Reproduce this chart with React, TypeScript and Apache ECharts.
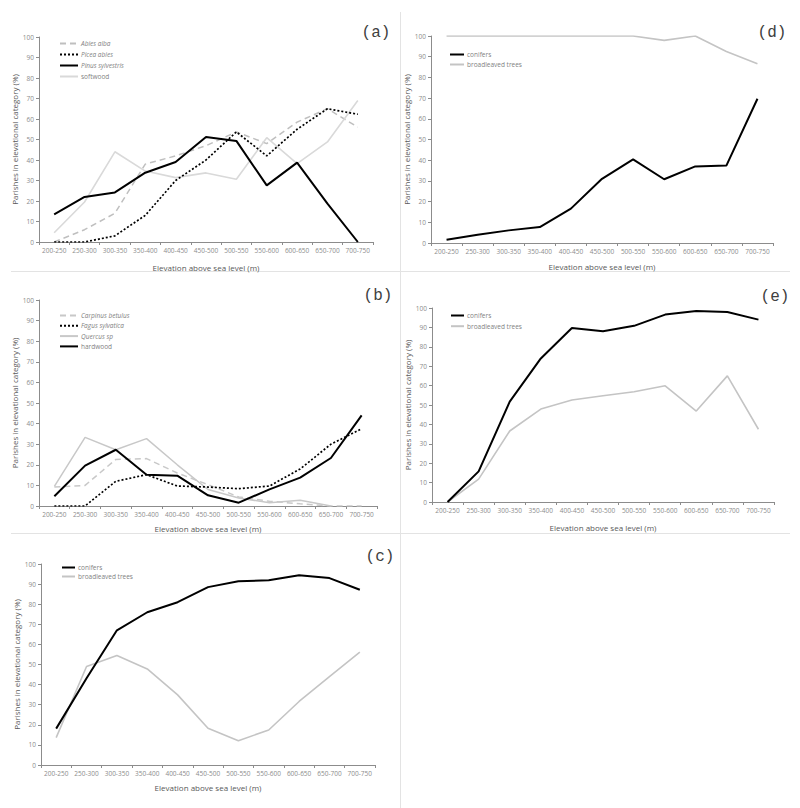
import React, { useEffect, useRef } from "react";
import * as echarts from "echarts";

const categories = ["200-250", "250-300", "300-350", "350-400", "400-450", "450-500", "500-550", "550-600", "600-650", "650-700", "700-750"];

// panel (a)
const abiesAlba = [0, 6, 14, 38, 42, 47, 53.7, 48, 58.5, 65, 56];
const piceaAbies = [0, 0, 3, 13, 30, 40, 53.7, 42, 55, 65, 62.3];
const pinusSylvestris = [13.5, 22, 24.2, 33.8, 39, 51.2, 49.3, 27.6, 38.7, 18.7, 0];
const softwood = [4.5, 19.5, 44, 34.6, 31.4, 33.7, 30.6, 50.9, 38.2, 48.8, 69];

// panel (b)
const carpinusBetulus = [9.2, 10, 22.6, 23, 16, 10.4, 4.4, 2.3, 1.1, 0, 0];
const fagusSylvatica = [0, 0, 12, 15.2, 9.7, 9.2, 8.4, 9.7, 18, 30, 37.5];
const quercusSp = [9.5, 33.3, 27.3, 32.7, 20, 8, 3.9, 1.6, 2.8, 0, null];
const hardwood = [4.7, 19.6, 27.3, 15.2, 14.7, 5.2, 1.6, 8.1, 13.8, 23.3, 44];

// panel (c)
const cConifers = [18.1, 43.2, 67, 76, 81, 88.5, 91.4, 91.9, 94.4, 93, 87.2];
const cBroadleaved = [13.6, 49, 54.5, 47.8, 34.9, 18.3, 12.1, 17.4, 31.6, 44, 56.1];

// panel (d)
const dConifers = [1.6, 4, 6.1, 7.7, 16.6, 31, 40.4, 30.8, 37, 37.4, 69.7];
const dBroadleaved = [100, 100, 100, 100, 100, 100, 100, 97.9, 100, 92.5, 86.6];

// panel (e)
const eConifers = [0, 15.8, 51.7, 74, 89.7, 88, 90.8, 96.6, 98.5, 97.9, 94];
const eBroadleaved = [0, 11.8, 36.6, 47.9, 52.6, 54.8, 56.8, 59.9, 46.9, 65, 37.5];

const yTicks = { min: 0, max: 100, interval: 10 };
const xTitle = "Elevation above sea level (m)";
const yTitle = "Parishes in elevational category (%)";
const panelLabels = ["(a)", "(b)", "(c)", "(d)", "(e)"];

const FONT = "'Open Sans', 'Noto Sans', sans-serif";
const BLACK = "#000000";

type SeriesDef = { name: string; data: (number | null)[]; color: string; width: number; type: string; italic: boolean };

const panels: {
  grid: { left: number; top: number; width: number; height: number };
  xGap: number;
  yGap: number;
  legend: { left: number; top: number; gap: number; itemWidth: number };
  label: { x: number; y: number };
  series: SeriesDef[];
}[] = [
  {
    grid: { left: 39, top: 37, width: 334, height: 205 },
    xGap: 21,
    yGap: 20,
    legend: { left: 59, top: 40, gap: 4, itemWidth: 18 },
    label: { x: 376, y: 33 },
    series: [
      { name: "Abies alba", data: abiesAlba, color: "#bfbfbf", width: 1.5, type: "dashed", italic: true },
      { name: "Picea abies", data: piceaAbies, color: BLACK, width: 1.7, type: "dotted", italic: true },
      { name: "Pinus sylvestris", data: pinusSylvestris, color: BLACK, width: 2, type: "solid", italic: true },
      { name: "softwood", data: softwood, color: "#d9d9d9", width: 1.6, type: "solid", italic: false },
    ],
  },
  {
    grid: { left: 39, top: 300, width: 338, height: 206 },
    xGap: 18,
    yGap: 20,
    legend: { left: 59, top: 312, gap: 3.3, itemWidth: 18 },
    label: { x: 378, y: 296 },
    series: [
      { name: "Carpinus betulus", data: carpinusBetulus, color: "#c8c8c8", width: 1.5, type: "dashed", italic: true },
      { name: "Fagus sylvatica", data: fagusSylvatica, color: BLACK, width: 1.7, type: "dotted", italic: true },
      { name: "Quercus sp", data: quercusSp, color: "#c8c8c8", width: 1.5, type: "solid", italic: true },
      { name: "hardwood", data: hardwood, color: BLACK, width: 2, type: "solid", italic: false },
    ],
  },
  {
    grid: { left: 41, top: 564, width: 334, height: 201 },
    xGap: 18,
    yGap: 21,
    legend: { left: 61, top: 564, gap: 2, itemWidth: 13 },
    label: { x: 380, y: 557 },
    series: [
      { name: "conifers", data: cConifers, color: BLACK, width: 2, type: "solid", italic: false },
      { name: "broadleaved trees", data: cBroadleaved, color: "#c4c4c4", width: 1.6, type: "solid", italic: false },
    ],
  },
  {
    grid: { left: 431, top: 36, width: 342, height: 207 },
    xGap: 19,
    yGap: 19,
    legend: { left: 449, top: 51, gap: 3, itemWidth: 14 },
    label: { x: 772, y: 33 },
    series: [
      { name: "conifers", data: dConifers, color: BLACK, width: 2, type: "solid", italic: false },
      { name: "broadleaved trees", data: dBroadleaved, color: "#c4c4c4", width: 1.6, type: "solid", italic: false },
    ],
  },
  {
    grid: { left: 432, top: 308, width: 342, height: 194 },
    xGap: 21,
    yGap: 20,
    legend: { left: 450, top: 312, gap: 3.7, itemWidth: 13 },
    label: { x: 775, y: 297 },
    series: [
      { name: "conifers", data: eConifers, color: BLACK, width: 2, type: "solid", italic: false },
      { name: "broadleaved trees", data: eBroadleaved, color: "#c4c4c4", width: 1.6, type: "solid", italic: false },
    ],
  },
];

export default function App() {
  const ref = useRef<HTMLDivElement>(null);
  useEffect(() => {
    if (!ref.current) return;
    const chart = echarts.init(ref.current, undefined, { renderer: "svg" });
    const grid: any[] = [];
    const xAxis: any[] = [];
    const yAxis: any[] = [];
    const series: any[] = [];
    const legend: any[] = [];
    const title: any[] = [];
    panels.forEach((p, i) => {
      grid.push({ ...p.grid, containLabel: false });
      xAxis.push({
        type: "category",
        gridIndex: i,
        data: categories,
        boundaryGap: true,
        name: xTitle,
        nameLocation: "middle",
        nameGap: p.xGap,
        nameTextStyle: { fontSize: 8, color: "#595959", fontFamily: FONT },
        axisLine: { lineStyle: { color: "#8c8c8c", width: 1 } },
        axisTick: { show: true, length: 3, alignWithLabel: false, lineStyle: { color: "#8c8c8c" } },
        axisLabel: { fontSize: 6.5, color: "#8c8c8c", margin: 5, interval: 0, fontFamily: FONT },
        splitLine: { show: false },
      });
      yAxis.push({
        type: "value",
        gridIndex: i,
        ...yTicks,
        name: yTitle,
        nameLocation: "middle",
        nameGap: p.yGap,
        nameTextStyle: { fontSize: 8, color: "#595959", fontFamily: FONT },
        axisLine: { show: true, lineStyle: { color: "#8c8c8c", width: 1 } },
        axisTick: { show: true, length: 3, lineStyle: { color: "#8c8c8c" } },
        axisLabel: { fontSize: 6.5, color: "#8c8c8c", margin: 5, fontFamily: FONT },
        splitLine: { show: false },
      });
      p.series.forEach((s) => {
        series.push({
          type: "line",
          name: s.name,
          xAxisIndex: i,
          yAxisIndex: i,
          data: s.data,
          symbol: "none",
          connectNulls: false,
          lineStyle: {
            color: s.color,
            width: s.width,
            type: s.type === "dashed" ? [6, 4] : s.type === "dotted" ? [2, 2] : "solid",
          },
          itemStyle: { color: s.color },
          z: s.color === BLACK ? 3 : 2,
        });
      });
      legend.push({
        orient: "vertical",
        left: p.legend.left,
        top: p.legend.top,
        itemWidth: p.legend.itemWidth,
        itemHeight: 8,
        itemGap: p.legend.gap,
        padding: 0,
        selectedMode: false,
        itemStyle: { opacity: 0 },
        textStyle: { fontSize: 6.5, color: "#7f7f7f", fontFamily: FONT, padding: [0, 0, 0, -2] },
        data: p.series.map((s) => ({
          name: s.name,
          textStyle: { fontStyle: s.italic ? "italic" : "normal" },
        })),
      });
      title.push({
        text: panelLabels[i],
        left: p.label.x,
        top: p.label.y,
        textAlign: "center",
        textVerticalAlign: "middle",
        padding: 0,
        textStyle: { fontFamily: "'Liberation Mono', 'DejaVu Sans Mono', monospace", fontSize: 16, fontWeight: "normal", color: "#404040" },
      });
    });
    const sep = { stroke: "#e3e3e3", lineWidth: 1 };
    chart.setOption({
      animation: false,
      backgroundColor: "#ffffff",
      title,
      grid,
      xAxis,
      yAxis,
      legend,
      series,
      graphic: [
        { type: "line", shape: { x1: 400.5, y1: 12, x2: 400.5, y2: 808 }, style: sep, silent: true },
        { type: "line", shape: { x1: 11, y1: 271.5, x2: 790, y2: 271.5 }, style: sep, silent: true },
        { type: "line", shape: { x1: 11, y1: 533.5, x2: 790, y2: 533.5 }, style: sep, silent: true },
      ],
    });
    return () => chart.dispose();
  }, []);
  return <div ref={ref} style={{ position: "fixed", left: 0, top: 0, width: 800, height: 808 }} />;
}
